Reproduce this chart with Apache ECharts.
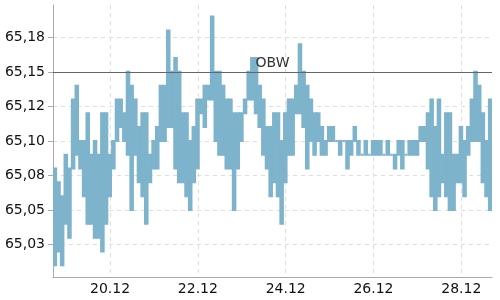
<!DOCTYPE html>
<html>
<head>
<meta charset="utf-8">
<script src="https://cdn.jsdelivr.net/npm/echarts@6/dist/echarts.min.js"></script>
<style>html,body{margin:0;padding:0;background:#fff}#c{width:500px;height:300px}</style>
</head>
<body>
<div id="c"></div>
<script>
// Time bins: 2-hour bins starting 18.12 ~16:48, x expressed as day of December
const binStartDay = 18.70;
const binHours = 2;

// Per-bin low / high price
const lows = [
  65.01, 65.02, 65.01, 65.04, 65.03, 65.08, 65.09, 65.08, 65.06, 65.04,
  65.04, 65.03, 65.03, 65.02, 65.04, 65.06, 65.08, 65.10, 65.11, 65.10,
  65.09, 65.05, 65.09, 65.07, 65.06, 65.04, 65.07, 65.08, 65.08, 65.10,
  65.10, 65.11, 65.11, 65.08, 65.07, 65.07, 65.06, 65.05, 65.07, 65.08,
  65.12, 65.11, 65.13, 65.13, 65.10, 65.09, 65.09, 65.08, 65.08, 65.05,
  65.08, 65.10, 65.12, 65.13, 65.13, 65.12, 65.11, 65.09, 65.08, 65.06,
  65.07, 65.06, 65.04, 65.07, 65.09, 65.09, 65.12, 65.12, 65.11, 65.08,
  65.10, 65.09, 65.10, 65.09, 65.09, 65.10, 65.10, 65.10, 65.09, 65.10,
  65.08, 65.09, 65.10, 65.09, 65.09, 65.09, 65.09, 65.09, 65.09, 65.09,
  65.09, 65.09, 65.09, 65.08, 65.09, 65.08, 65.09, 65.09, 65.09, 65.09,
  65.10, 65.10, 65.08, 65.06, 65.05, 65.06, 65.07, 65.06, 65.05, 65.05,
  65.07, 65.07, 65.06, 65.09, 65.10, 65.10, 65.10, 65.07, 65.06, 65.05
];
const highs = [
  65.08, 65.07, 65.06, 65.09, 65.08, 65.13, 65.14, 65.10, 65.10, 65.12,
  65.09, 65.10, 65.09, 65.12, 65.12, 65.09, 65.10, 65.13, 65.13, 65.12,
  65.15, 65.14, 65.13, 65.11, 65.12, 65.12, 65.09, 65.10, 65.11, 65.14,
  65.14, 65.18, 65.15, 65.16, 65.15, 65.12, 65.12, 65.10, 65.11, 65.13,
  65.13, 65.14, 65.14, 65.19, 65.15, 65.15, 65.14, 65.13, 65.13, 65.12,
  65.12, 65.12, 65.13, 65.15, 65.16, 65.16, 65.14, 65.13, 65.11, 65.11,
  65.12, 65.12, 65.10, 65.12, 65.13, 65.13, 65.14, 65.17, 65.15, 65.14,
  65.13, 65.12, 65.12, 65.11, 65.10, 65.11, 65.11, 65.10, 65.10, 65.10,
  65.10, 65.10, 65.11, 65.10, 65.09, 65.10, 65.09, 65.10, 65.10, 65.10,
  65.09, 65.10, 65.09, 65.09, 65.10, 65.10, 65.09, 65.10, 65.10, 65.10,
  65.11, 65.11, 65.12, 65.13, 65.11, 65.13, 65.09, 65.12, 65.12, 65.09,
  65.09, 65.11, 65.10, 65.11, 65.13, 65.15, 65.14, 65.12, 65.10, 65.13
];

const refLineValue = 65.15;
const refLineLabel = 'OBW';

const yTickValues = [65.025, 65.05, 65.075, 65.10, 65.125, 65.15, 65.175];
const yTickLabels = ['65,03', '65,05', '65,08', '65,10', '65,12', '65,15', '65,18'];
const xTickValues = [20, 22, 24, 26, 28];
const xTickLabels = ['20.12', '22.12', '24.12', '26.12', '28.12'];

const xs = lows.map((_, i) => binStartDay + (i + 0.5) * binHours / 24);
const rangeData = lows.map((v, i) => [xs[i], v, highs[i]]);

function lookup(vals, labels, v) {
  for (let i = 0; i < vals.length; i++) if (Math.abs(vals[i] - v) < 1e-6) return labels[i];
  return '';
}

const color = '#7eb3cc';
const font = 'DejaVu Sans';
const lineW = 2;
const chart = echarts.init(document.getElementById('c'), null, {renderer: 'canvas'});
chart.setOption({
  animation: false,
  grid: {left: 53, right: 8, top: 5, bottom: 23, containLabel: false},
  xAxis: {
    type: 'value',
    min: 18.70, max: 28.70,
    minInterval: 2, maxInterval: 2,
    axisLine: {show: true, lineStyle: {color: '#aaa'}},
    axisTick: {show: false},
    axisLabel: {
      margin: 5, fontSize: 14, color: '#111', fontFamily: font,
      showMinLabel: false, showMaxLabel: false,
      formatter: v => lookup(xTickValues, xTickLabels, v)
    },
    splitLine: {show: true, showMinLine: false, showMaxLine: false,
      lineStyle: {color: '#ddd', type: [4, 4]}}
  },
  yAxis: {
    type: 'value',
    min: 65.0015, max: 65.1984,
    minInterval: 0.025, maxInterval: 0.025,
    axisLine: {show: true, lineStyle: {color: '#aaa'}},
    axisTick: {show: true, length: 5, lineStyle: {color: '#aaa'}},
    axisLabel: {
      margin: 8, fontSize: 14, color: '#111', fontFamily: font,
      showMinLabel: false, showMaxLabel: false,
      formatter: v => lookup(yTickValues, yTickLabels, v)
    },
    splitLine: {show: true, showMinLine: false, showMaxLine: false,
      lineStyle: {color: '#ddd', type: [4, 4]}}
  },
  series: [
    {
      type: 'custom',
      data: rangeData,
      encode: {x: 0, y: [1, 2]},
      clip: true,
      renderItem: function (params, api) {
        const x = api.value(0);
        const lo = api.coord([x, api.value(1)]);
        const hi = api.coord([x, api.value(2)]);
        const w = api.size([binHours / 24, 0])[0];
        const rw = Math.max(w - lineW + 0.9, 0.5);
        return {
          type: 'rect',
          shape: {x: lo[0] - rw / 2, y: hi[1], width: rw, height: lo[1] - hi[1]},
          style: {fill: color, stroke: color, lineWidth: lineW}
        };
      }
    },
    {
      type: 'line',
      data: [],
      z: 5,
      markLine: {
        silent: true, symbol: 'none', animation: false,
        lineStyle: {color: '#666', type: 'solid', width: 1},
        label: {show: true, position: 'insideMiddleTop', distance: 2,
          formatter: refLineLabel, fontSize: 14, color: '#333', fontFamily: font},
        data: [{yAxis: refLineValue}]
      }
    }
  ]
});
</script>
</body>
</html>
